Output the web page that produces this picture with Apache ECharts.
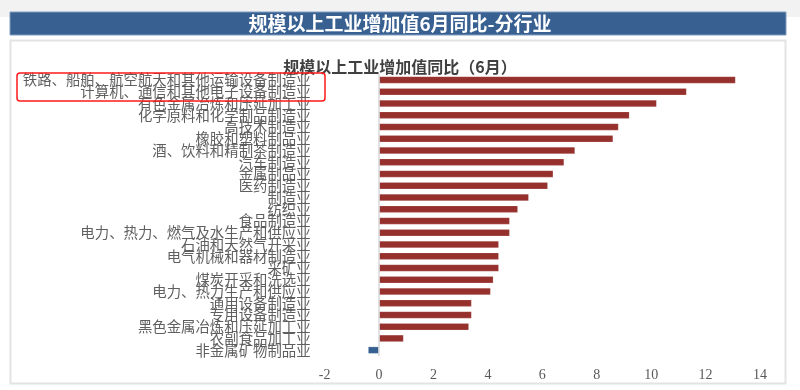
<!DOCTYPE html>
<html>
<head>
<meta charset="utf-8">
<script src="https://cdn.jsdelivr.net/npm/echarts@6/dist/echarts.min.js"></script>
<style>
html,body{margin:0;padding:0;background:#ffffff;}
#chart{width:800px;height:390px;}
</style>
</head>
<body>
<div id="chart"></div>
<script>
const categories = [
  '铁路、船舶、航空航天和其他运输设备制造业',
  '计算机、通信和其他电子设备制造业',
  '有色金属冶炼和压延加工业',
  '化学原料和化学制品制造业',
  '高技术制造业',
  '橡胶和塑料制品业',
  '酒、饮料和精制茶制造业',
  '汽车制造业',
  '金属制品业',
  '医药制造业',
  '制造业',
  '纺织业',
  '食品制造业',
  '电力、热力、燃气及水生产和供应业',
  '石油和天然气开采业',
  '电气机械和器材制造业',
  '采矿业',
  '煤炭开采和洗选业',
  '电力、热力生产和供应业',
  '通用设备制造业',
  '专用设备制造业',
  '黑色金属冶炼和压延加工业',
  '农副食品加工业',
  '非金属矿物制品业'
];
const values = [13.1, 11.3, 10.2, 9.2, 8.8, 8.6, 7.2, 6.8, 6.4, 6.2, 5.5, 5.1, 4.8, 4.8, 4.4, 4.4, 4.4, 4.2, 4.1, 3.4, 3.4, 3.3, 0.9, -0.4];
const xTicks = { min: -2, max: 14, interval: 2 };
const bannerTitle = '规模以上工业增加值6月同比-分行业';
const chartTitle = '规模以上工业增加值同比（6月）';

const chart = echarts.init(document.getElementById('chart'), null, { renderer: 'canvas' });
chart.setOption({
  backgroundColor: '#ffffff',
  animation: false,
  title: {
    text: chartTitle,
    left: 395,
    textAlign: 'center',
    top: 54,
    textStyle: { fontFamily: 'Noto Sans CJK SC', fontSize: 16, fontWeight: 'bold', color: '#404040' }
  },
  graphic: [
    { type: 'rect', z: -10, shape: { x: 0, y: 0, width: 800, height: 17 }, style: { fill: '#f2f2f2' } },
    { type: 'rect', z: -5, shape: { x: 10, y: 12, width: 776, height: 23 }, style: { fill: '#386192', stroke: '#7f9cc0', lineWidth: 1 } },
    { type: 'text', z: 10, x: 400, y: 23.5, style: { text: bannerTitle, fill: '#ffffff', font: 'bold 19px "Noto Sans CJK SC"', align: 'center', verticalAlign: 'middle' } },
    { type: 'rect', z: -5, shape: { x: 10.5, y: 40.5, width: 775, height: 343 }, style: { fill: '#ffffff', stroke: '#e3e3e3', lineWidth: 2 } },
    { type: 'rect', z: 20, shape: { x: 17, y: 73, width: 308, height: 28, r: 3 }, style: { fill: 'none', stroke: '#ff1a1a', lineWidth: 1.5 } }
  ],
  grid: { left: 324.6, right: 40, top: 74, bottom: 34, outerBoundsMode: 'none' },
  xAxis: {
    type: 'value',
    min: xTicks.min, max: xTicks.max, interval: xTicks.interval,
    axisLine: { show: false },
    axisTick: { show: false },
    splitLine: { show: false },
    axisLabel: { fontFamily: 'Liberation Serif', fontSize: 14, color: '#595959', margin: 12 }
  },
  yAxis: {
    type: 'category',
    data: categories,
    inverse: true,
    axisLine: { show: false },
    axisTick: { show: false },
    axisLabel: { interval: 0, fontFamily: 'Noto Sans CJK SC', fontSize: 14.4, color: '#5f5f5f', margin: 14 }
  },
  series: [{
    type: 'bar',
    data: values,
    barWidth: 7,
    itemStyle: {
      color: p => (p.value < 0 ? '#376092' : '#96302d'),
      borderColor: 'rgba(255,255,255,0.35)',
      borderWidth: 0.5
    },
    markLine: {
      silent: true,
      symbol: 'none',
      label: { show: false },
      lineStyle: { color: '#d9d9d9', width: 1.5, type: 'solid' },
      data: [{ xAxis: 0 }]
    }
  }]
});
</script>
</body>
</html>
